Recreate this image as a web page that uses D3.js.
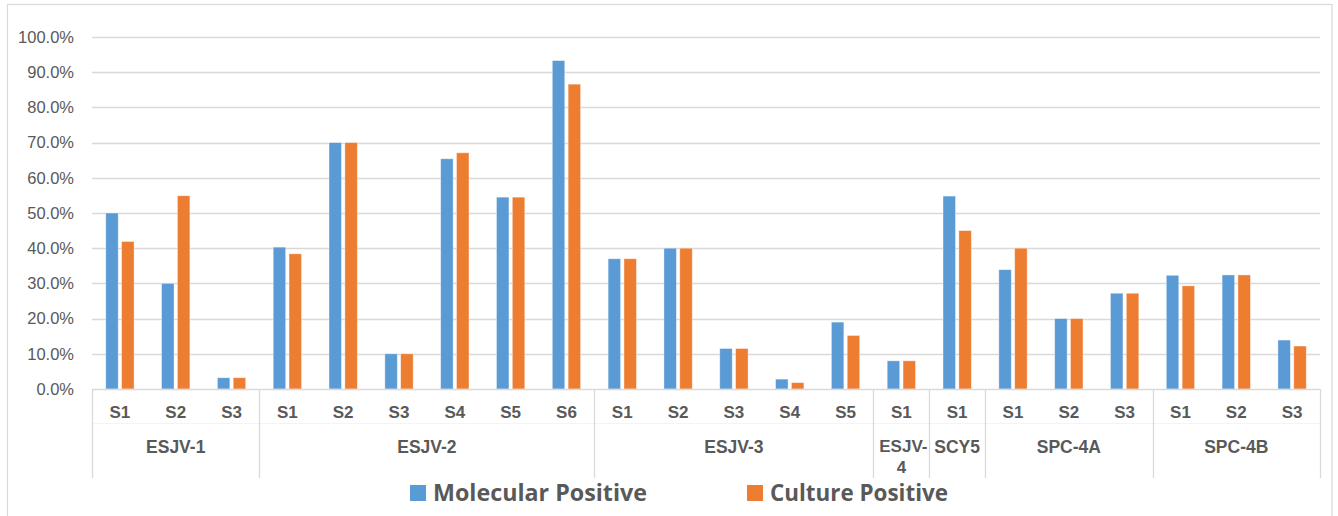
<!DOCTYPE html>
<html>
<head>
<meta charset="utf-8">
<script src="https://cdn.jsdelivr.net/npm/d3@7"></script>
<style>
  html, body { margin: 0; padding: 0; background: #fff; }
  svg { display: block; }
</style>
</head>
<body>
<svg id="chart" width="1338" height="516"></svg>
<script>
// ---- Data ----
const groups = ["ESJV-1", "ESJV-2", "ESJV-3", "ESJV-4", "SCY5", "SPC-4A", "SPC-4B"];
const groupSizes = [3, 6, 5, 1, 1, 3, 3];
const subLabels = ["S1","S2","S3", "S1","S2","S3","S4","S5","S6", "S1","S2","S3","S4","S5", "S1", "S1", "S1","S2","S3", "S1","S2","S3"];
const seriesNames = ["Molecular Positive", "Culture Positive"];
const molecular = [50.0, 30.0, 3.2, 40.3, 70.0, 10.0, 65.4, 54.5, 93.3, 37.0, 40.0, 11.5, 2.8, 19.0, 8.0, 54.8, 33.9, 20.0, 27.2, 32.3, 32.4, 13.9];
const culture   = [41.9, 54.9, 3.2, 38.4, 70.0, 10.0, 67.1, 54.5, 86.6, 37.0, 40.0, 11.5, 1.8, 15.2, 8.0, 45.0, 40.0, 20.0, 27.2, 29.3, 32.4, 12.2];
const yTicks = [0, 10, 20, 30, 40, 50, 60, 70, 80, 90, 100];
const colors = ["#5B9BD5", "#ED7D31"];

(function () {
// ---- Layout ----
const svg = d3.select("#chart");
const pLeft = 92, pRight = 1320, pTop = 37, pBottom = 389;
const textColor = "#595959";
const gridColor = "#D9D9D9";

// chart border
svg.append("rect")
  .attr("x", 7.5).attr("y", 4.5).attr("width", 1324.5).attr("height", 530)
  .attr("fill", "none").attr("stroke", gridColor).attr("stroke-width", 1.2);

const idx = d3.range(subLabels.length);
const pIn = 0.493;
const x = d3.scaleBand().domain(idx).range([pLeft, pRight]).paddingInner(pIn).paddingOuter(pIn / 2);
const xs = d3.scaleBand().domain([0, 1]).range([0, x.bandwidth()]).paddingInner(0.2145);
const y = d3.scaleLinear().domain([0, 100]).range([pBottom, pTop]);
const step = x.step();

// gridlines
svg.append("g").selectAll("line").data(yTicks.filter(t => t > 0)).join("line")
  .attr("x1", pLeft).attr("x2", pRight)
  .attr("y1", d => Math.round(y(d)) + 0.5).attr("y2", d => Math.round(y(d)) + 0.5)
  .attr("stroke", gridColor).attr("stroke-width", 1.3);

// y axis labels
const yAxis = d3.axisLeft(y).tickValues(yTicks).tickSize(0).tickPadding(18)
  .tickFormat(d => d.toFixed(1) + "%");
const ya = svg.append("g").attr("transform", `translate(${pLeft},0)`).call(yAxis);
ya.select(".domain").remove();
ya.selectAll("text").attr("fill", textColor)
  .style("font-family", "'Liberation Sans', Arial, sans-serif").style("font-size", "16.5px");

// bars
const series = [molecular, culture];
series.forEach((vals, s) => {
  svg.append("g").selectAll("rect").data(idx).join("rect")
    .attr("x", i => x(i) + xs(s))
    .attr("width", xs.bandwidth())
    .attr("y", i => y(vals[i]))
    .attr("height", i => y(0) - y(vals[i]))
    .attr("fill", colors[s])
    .attr("stroke", "#ffffff").attr("stroke-opacity", 0.45).attr("stroke-width", 0.8);
});

// category axis
const axisG = svg.append("g");
axisG.append("line").attr("x1", pLeft).attr("x2", pRight)
  .attr("y1", pBottom + 0.5).attr("y2", pBottom + 0.5)
  .attr("stroke", gridColor).attr("stroke-width", 1.3);

// faint level separator
axisG.append("line").attr("x1", pLeft).attr("x2", pRight)
  .attr("y1", 423.5).attr("y2", 423.5)
  .attr("stroke", "#F4F4F4").attr("stroke-width", 1);

// group boundaries
let cum = [0];
groupSizes.forEach(n => cum.push(cum[cum.length - 1] + n));
const boundaryX = cum.map(c => pLeft + c * step);
axisG.selectAll("line.sep").data(boundaryX).join("line").attr("class", "sep")
  .attr("x1", d => Math.round(d) + 0.5).attr("x2", d => Math.round(d) + 0.5)
  .attr("y1", pBottom).attr("y2", 478)
  .attr("stroke", gridColor).attr("stroke-width", 1.3);

// sub labels
axisG.selectAll("text.sub").data(idx).join("text").attr("class", "sub")
  .attr("x", i => x(i) + x.bandwidth() / 2)
  .attr("y", 418)
  .attr("text-anchor", "middle")
  .attr("fill", textColor)
  .style("font-family", "'Liberation Sans', Arial, sans-serif")
  .style("font-weight", "bold").style("font-size", "17px")
  .text(i => subLabels[i]);

// group labels
groups.forEach((g, gi) => {
  const cx = (boundaryX[gi] + boundaryX[gi + 1]) / 2;
  const fs = g === "ESJV-4" ? 17 : 17.5;
  if (g === "ESJV-4") {
    axisG.append("text")
      .attr("x", cx + 2).attr("y", 452)
      .attr("text-anchor", "middle").attr("fill", textColor)
      .style("font-family", "'Liberation Sans', Arial, sans-serif")
      .style("font-weight", "bold").style("font-size", fs + "px")
      .text("ESJV-");
    axisG.append("text")
      .attr("x", cx).attr("y", 473)
      .attr("text-anchor", "middle").attr("fill", textColor)
      .style("font-family", "'Liberation Sans', Arial, sans-serif")
      .style("font-weight", "bold").style("font-size", fs + "px")
      .text("4");
  } else {
    axisG.append("text")
      .attr("x", cx).attr("y", 453)
      .attr("text-anchor", "middle").attr("fill", textColor)
      .style("font-family", "'Liberation Sans', Arial, sans-serif")
      .style("font-weight", "bold").style("font-size", fs + "px")
      .text(g);
  }
});

// legend
const legend = [
  { sx: 410, tx: 433, tw: 214 },
  { sx: 747, tx: 770, tw: 178 }
];
legend.forEach((L, s) => {
  svg.append("rect").attr("x", L.sx).attr("y", 485).attr("width", 16).attr("height", 16)
    .attr("fill", colors[s]);
  svg.append("text").attr("x", L.tx).attr("y", 501)
    .attr("fill", textColor)
    .attr("textLength", L.tw).attr("lengthAdjust", "spacingAndGlyphs")
    .style("font-family", "'Open Sans', 'Noto Sans', sans-serif")
    .style("font-weight", "bold").style("font-size", "24px")
    .text(seriesNames[s]);
});
})();
</script>
</body>
</html>
